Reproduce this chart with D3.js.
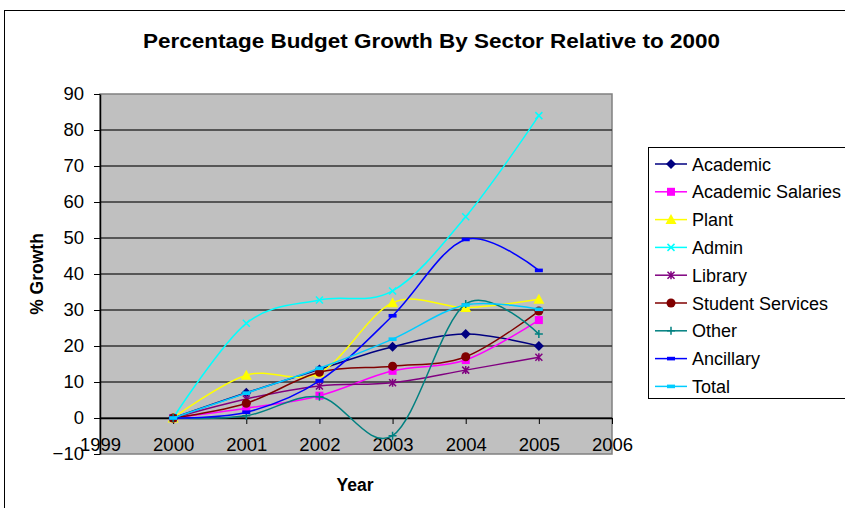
<!DOCTYPE html>
<html>
<head>
<meta charset="utf-8">
<script src="https://cdn.jsdelivr.net/npm/d3@7"></script>
<style>
  body { margin: 0; background: #fff; }
  svg { display: block; font-family: "Liberation Sans", Arial, sans-serif; }
</style>
</head>
<body>
<div id="chart"></div>
<script>
// data
const years = [2000, 2001, 2002, 2003, 2004, 2005];
const seriesNames = ["Academic", "Academic Salaries", "Plant", "Admin", "Library",
  "Student Services", "Other", "Ancillary", "Total"];
const academic = [0, 7.0, 13.5, 19.8, 23.3, 20.0];
const academicSalaries = [0, 2.7, 6.2, 13.1, 16.1, 27.2];
const plant = [0, 11.9, 12.5, 32.0, 30.7, 33.0];
const admin = [0, 26.3, 32.8, 35.3, 55.9, 84.0];
const library = [0, 5.3, 8.9, 9.8, 13.3, 16.9];
const studentServices = [0, 4.1, 12.7, 14.4, 17.0, 29.7];
const other = [0, 0.6, 5.9, -4.9, 31.7, 23.3];
const ancillary = [0, 1.6, 10.3, 28.4, 49.6, 41.0];
const total = [0, 6.9, 13.8, 21.9, 31.4, 30.2];
const xTicks = [1999, 2000, 2001, 2002, 2003, 2004, 2005, 2006];
const yTicks = [-10, 0, 10, 20, 30, 40, 50, 60, 70, 80, 90];

const seriesValues = [academic, academicSalaries, plant, admin, library,
  studentServices, other, ancillary, total];
const seriesColors = ["#000080", "#ff00ff", "#ffff00", "#00ffff", "#800080",
  "#800000", "#008080", "#0000ff", "#00ccff"];
const seriesMarkers = ["diamond", "square", "triangle", "x", "star",
  "circle", "plus", "dash", "dash"];

const width = 845, height = 508;
const marginLeft = 100, marginTop = 94, plotRight = 612, plotBottom = 454;

const svg = d3.select("#chart").append("svg")
  .attr("width", width)
  .attr("height", height)
  .attr("viewBox", [0, 0, width, height]);

// outer chart border
svg.append("rect")
  .attr("x", 4.5).attr("y", 10.5)
  .attr("width", 900).attr("height", 600)
  .attr("fill", "none").attr("stroke", "#000");

const xScale = d3.scaleLinear([1999, 2006], [marginLeft, plotRight]);
const yScale = d3.scaleLinear([-10, 90], [plotBottom, marginTop]);

// plot area
svg.append("rect")
  .attr("x", xScale(1999)).attr("y", yScale(90))
  .attr("width", xScale(2006) - xScale(1999))
  .attr("height", yScale(-10) - yScale(90))
  .attr("fill", "#c0c0c0")
  .attr("stroke", "#808080")
  .attr("stroke-width", 1.5);

// gridlines
svg.append("g")
  .selectAll("line")
  .data(yTicks.filter((d) => d > -10 && d < 90))
  .join("line")
  .attr("x1", xScale(1999)).attr("x2", xScale(2006))
  .attr("y1", (d) => yScale(d)).attr("y2", (d) => yScale(d))
  .attr("stroke", "#333")
  .attr("stroke-width", 1.5);

// y axis
svg.append("g")
  .attr("transform", `translate(${marginLeft},0)`)
  .call(d3.axisLeft(yScale).tickValues(yTicks).tickSize(6).tickSizeOuter(0).tickPadding(10))
  .call((g) => g.select(".domain").attr("stroke", "#000").attr("stroke-width", 1.5))
  .call((g) => g.selectAll(".tick line").attr("stroke", "#000"))
  .call((g) => g.selectAll(".tick text")
    .attr("font-size", 18.5)
    .attr("font-family", "Liberation Sans, Arial, sans-serif")
    .attr("fill", "#000"));

// x axis (crosses at 0)
svg.append("g")
  .attr("transform", `translate(0,${yScale(0)})`)
  .call(d3.axisBottom(xScale).tickValues(xTicks).tickFormat(d3.format("d")).tickSize(6).tickSizeOuter(0))
  .call((g) => g.select(".domain").attr("stroke", "#000").attr("stroke-width", 1.5))
  .call((g) => g.selectAll(".tick line").attr("stroke", "#000"))
  .call((g) => g.selectAll(".tick text")
    .attr("y", 33)
    .attr("dy", null)
    .attr("font-size", 18.5)
    .attr("font-family", "Liberation Sans, Arial, sans-serif")
    .attr("fill", "#000"));

// marker shapes
function drawMarker(g, type, color) {
  if (type === "diamond") {
    g.append("path").attr("d", "M0,-5L5,0L0,5L-5,0Z").attr("fill", color);
  } else if (type === "square") {
    g.append("rect").attr("x", -4).attr("y", -4).attr("width", 8).attr("height", 8).attr("fill", color);
  } else if (type === "triangle") {
    g.append("path").attr("d", "M0,-5.5L5.5,4.5L-5.5,4.5Z").attr("fill", color);
  } else if (type === "x") {
    g.append("path").attr("d", "M-3.5,-3.5L3.5,3.5M-3.5,3.5L3.5,-3.5")
      .attr("stroke", color).attr("stroke-width", 1.5);
  } else if (type === "star") {
    g.append("path").attr("d", "M-3.5,-3.5L3.5,3.5M-3.5,3.5L3.5,-3.5M0,-4L0,4")
      .attr("stroke", color).attr("stroke-width", 1.5);
  } else if (type === "circle") {
    g.append("circle").attr("r", 4.5).attr("fill", color);
  } else if (type === "plus") {
    g.append("path").attr("d", "M-4,0L4,0M0,-4L0,4")
      .attr("stroke", color).attr("stroke-width", 1.5);
  } else if (type === "dash") {
    g.append("rect").attr("x", -4).attr("y", -1.8).attr("width", 8).attr("height", 3.6).attr("fill", color);
  }
}

const line = d3.line()
  .x((d, i) => xScale(years[i]))
  .y((d) => yScale(d))
  .curve(d3.curveCardinal.tension(0));

// series lines + markers
seriesValues.forEach((vals, s) => {
  const g = svg.append("g");
  g.append("path")
    .attr("d", line(vals))
    .attr("fill", "none")
    .attr("stroke", seriesColors[s])
    .attr("stroke-width", 1.5);
  g.selectAll("g")
    .data(vals)
    .join("g")
    .attr("transform", (d, i) => `translate(${xScale(years[i])},${yScale(d)})`)
    .each(function () { drawMarker(d3.select(this), seriesMarkers[s], seriesColors[s]); });
});

// title
svg.append("text")
  .attr("x", 431.5).attr("y", 48)
  .attr("text-anchor", "middle")
  .attr("font-size", 21)
  .attr("font-weight", 700)
  .attr("textLength", 577)
  .attr("lengthAdjust", "spacingAndGlyphs")
  .text("Percentage Budget Growth By Sector Relative to 2000");

// axis titles
svg.append("text")
  .attr("transform", "translate(43,274) rotate(-90)")
  .attr("text-anchor", "middle")
  .attr("font-size", 17.5)
  .attr("font-weight", 700)
  .text("% Growth");

svg.append("text")
  .attr("x", 355).attr("y", 491)
  .attr("text-anchor", "middle")
  .attr("font-size", 17.5)
  .attr("font-weight", 700)
  .text("Year");

// legend
const legend = svg.append("g");
legend.append("rect")
  .attr("x", 648.5).attr("y", 147.5)
  .attr("width", 250).attr("height", 251)
  .attr("fill", "#fff").attr("stroke", "#000");

const legendItems = legend.selectAll("g")
  .data(seriesNames)
  .join("g")
  .attr("transform", (d, i) => `translate(0,${164 + i * 27.8})`);

legendItems.append("line")
  .attr("x1", 655).attr("x2", 687)
  .attr("stroke", (d, i) => seriesColors[i])
  .attr("stroke-width", 1.5);

legendItems.append("g")
  .attr("transform", "translate(671,0)")
  .each(function (d, i) { drawMarker(d3.select(this), seriesMarkers[i], seriesColors[i]); });

legendItems.append("text")
  .attr("x", 692).attr("y", 6.5)
  .attr("font-size", 18)
  .text((d) => d);
</script>
</body>
</html>
